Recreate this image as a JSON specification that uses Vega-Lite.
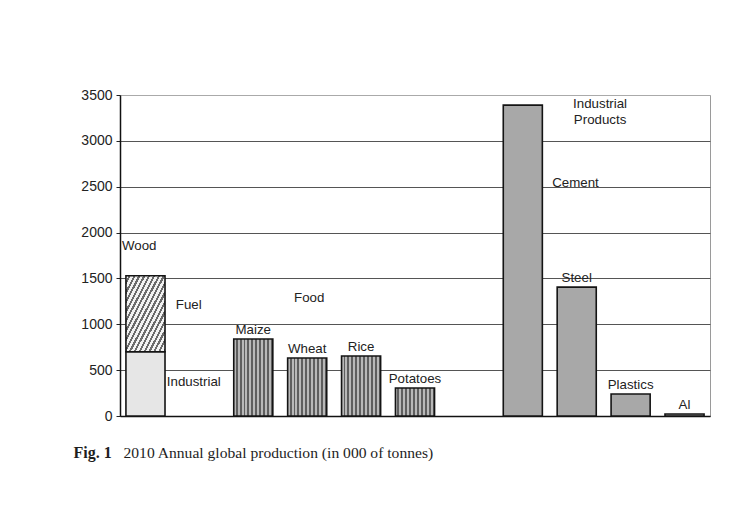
{
  "$schema": "https://vega.github.io/schema/vega-lite/v6.json",
  "width": 590,
  "height": 321,
  "autosize": {"type": "none"},
  "padding": {"left": 120, "top": 95, "right": 42, "bottom": 92},
  "background": "#ffffff",
  "config": {
    "view": {"stroke": "#9a9a9a", "strokeWidth": 1},
    "text": {"font": "Liberation Sans", "fontSize": 13.3, "color": "#222222"}
  },
  "data": {
    "values": [
      {"slot": "Wood", "item": "Industrial", "group": "Wood", "value": 700},
      {"slot": "Wood", "item": "Fuel", "group": "Wood", "value": 830},
      {"slot": "Maize", "item": "Maize", "group": "Food", "value": 840},
      {"slot": "Wheat", "item": "Wheat", "group": "Food", "value": 632},
      {"slot": "Rice", "item": "Rice", "group": "Food", "value": 654},
      {"slot": "Potatoes", "item": "Potatoes", "group": "Food", "value": 305},
      {"slot": "Cement", "item": "Cement", "group": "Industrial Products", "value": 3390},
      {"slot": "Steel", "item": "Steel", "group": "Industrial Products", "value": 1405},
      {"slot": "Plastics", "item": "Plastics", "group": "Industrial Products", "value": 240},
      {"slot": "Al", "item": "Al", "group": "Industrial Products", "value": 22}
    ]
  },
  "transform": [
    {"stack": "value", "groupby": ["slot"], "sort": [{"field": "item", "order": "descending"}], "as": ["y0", "y1"]}
  ],
  "layer": [
    {
      "transform": [{"filter": "datum.item === 'Industrial'"}],
      "mark": {"type": "bar", "fill": "#e6e6e6", "stroke": "#141414", "strokeWidth": 1.6},
      "encoding": {
        "x": {
          "field": "slot", "type": "nominal",
          "scale": {"domain": ["Wood", "gap1", "Maize", "Wheat", "Rice", "Potatoes", "gap2", "Cement", "Steel", "Plastics", "Al"], "paddingInner": 0.275, "paddingOuter": 0.11},
          "axis": {
            "orient": "bottom", "labels": false, "ticks": false, "grid": false,
            "domainColor": "#111111", "domainWidth": 1.5,
            "title": "2010 Annual global production (in 000 of tonnes)",
            "titleX": 3, "titleY": 41, "titleAlign": "left", "titleAnchor": "start", "titleBaseline": "alphabetic",
            "titleFont": "Liberation Serif", "titleFontSize": 15.6, "titleFontWeight": "normal", "titleColor": "#1e1e1e"
          }
        },
        "y": {
          "field": "y1", "type": "quantitative",
          "scale": {"domain": [0, 3500], "nice": false},
          "axis": {
            "orient": "left", "values": [0, 500, 1000, 1500, 2000, 2500, 3000, 3500], "format": "d",
            "title": "Fig. 1", "titleAngle": 0, "titleX": -47, "titleY": 362, "titleAlign": "left", "titleBaseline": "alphabetic",
            "titleFont": "Liberation Serif", "titleFontSize": 16, "titleFontWeight": "bold", "titleColor": "#1e1e1e",
            "labelFont": "Liberation Sans", "labelFontSize": 14, "labelColor": "#222222", "labelPadding": 4,
            "tickColor": "#222222", "tickSize": 4, "domainColor": "#111111", "domainWidth": 1.5,
            "grid": true, "gridWidth": 1,
            "gridColor": {"condition": {"test": "datum.value === 3500", "value": "#aaaaaa"}, "value": "#555555"}
          }
        },
        "y2": {"field": "y0"}
      }
    },
    {
      "transform": [{"filter": "datum.item === 'Fuel'"}],
      "mark": {
        "type": "bar", "stroke": "#141414", "strokeWidth": 1.6,
        "fill": {
          "gradient": "linear", "x1": 0, "y1": 0, "x2": 1, "y2": 1,
          "stops": [
            {"offset": 0, "color": "#f2f2f2"}, {"offset": 0.035, "color": "#f2f2f2"}, {"offset": 0.035, "color": "#6a6a6a"}, {"offset": 0.0625, "color": "#6a6a6a"},
            {"offset": 0.0625, "color": "#f2f2f2"}, {"offset": 0.0975, "color": "#f2f2f2"}, {"offset": 0.0975, "color": "#6a6a6a"}, {"offset": 0.125, "color": "#6a6a6a"},
            {"offset": 0.125, "color": "#f2f2f2"}, {"offset": 0.16, "color": "#f2f2f2"}, {"offset": 0.16, "color": "#6a6a6a"}, {"offset": 0.1875, "color": "#6a6a6a"},
            {"offset": 0.1875, "color": "#f2f2f2"}, {"offset": 0.2225, "color": "#f2f2f2"}, {"offset": 0.2225, "color": "#6a6a6a"}, {"offset": 0.25, "color": "#6a6a6a"},
            {"offset": 0.25, "color": "#f2f2f2"}, {"offset": 0.285, "color": "#f2f2f2"}, {"offset": 0.285, "color": "#6a6a6a"}, {"offset": 0.3125, "color": "#6a6a6a"},
            {"offset": 0.3125, "color": "#f2f2f2"}, {"offset": 0.3475, "color": "#f2f2f2"}, {"offset": 0.3475, "color": "#6a6a6a"}, {"offset": 0.375, "color": "#6a6a6a"},
            {"offset": 0.375, "color": "#f2f2f2"}, {"offset": 0.41, "color": "#f2f2f2"}, {"offset": 0.41, "color": "#6a6a6a"}, {"offset": 0.4375, "color": "#6a6a6a"},
            {"offset": 0.4375, "color": "#f2f2f2"}, {"offset": 0.4725, "color": "#f2f2f2"}, {"offset": 0.4725, "color": "#6a6a6a"}, {"offset": 0.5, "color": "#6a6a6a"},
            {"offset": 0.5, "color": "#f2f2f2"}, {"offset": 0.535, "color": "#f2f2f2"}, {"offset": 0.535, "color": "#6a6a6a"}, {"offset": 0.5625, "color": "#6a6a6a"},
            {"offset": 0.5625, "color": "#f2f2f2"}, {"offset": 0.5975, "color": "#f2f2f2"}, {"offset": 0.5975, "color": "#6a6a6a"}, {"offset": 0.625, "color": "#6a6a6a"},
            {"offset": 0.625, "color": "#f2f2f2"}, {"offset": 0.66, "color": "#f2f2f2"}, {"offset": 0.66, "color": "#6a6a6a"}, {"offset": 0.6875, "color": "#6a6a6a"},
            {"offset": 0.6875, "color": "#f2f2f2"}, {"offset": 0.7225, "color": "#f2f2f2"}, {"offset": 0.7225, "color": "#6a6a6a"}, {"offset": 0.75, "color": "#6a6a6a"},
            {"offset": 0.75, "color": "#f2f2f2"}, {"offset": 0.785, "color": "#f2f2f2"}, {"offset": 0.785, "color": "#6a6a6a"}, {"offset": 0.8125, "color": "#6a6a6a"},
            {"offset": 0.8125, "color": "#f2f2f2"}, {"offset": 0.8475, "color": "#f2f2f2"}, {"offset": 0.8475, "color": "#6a6a6a"}, {"offset": 0.875, "color": "#6a6a6a"},
            {"offset": 0.875, "color": "#f2f2f2"}, {"offset": 0.91, "color": "#f2f2f2"}, {"offset": 0.91, "color": "#6a6a6a"}, {"offset": 0.9375, "color": "#6a6a6a"},
            {"offset": 0.9375, "color": "#f2f2f2"}, {"offset": 0.9725, "color": "#f2f2f2"}, {"offset": 0.9725, "color": "#6a6a6a"}, {"offset": 1, "color": "#6a6a6a"}
          ]
        }
      },
      "encoding": {
        "x": {"field": "slot", "type": "nominal"},
        "y": {"field": "y1", "type": "quantitative"},
        "y2": {"field": "y0"}
      }
    },
    {
      "transform": [{"filter": "datum.group === 'Food'"}],
      "mark": {
        "type": "bar", "stroke": "#141414", "strokeWidth": 1.6,
        "fill": {
          "gradient": "linear", "x1": 0, "y1": 0, "x2": 1, "y2": 0,
          "stops": [
            {"offset": 0, "color": "#b8b8b8"}, {"offset": 0.05, "color": "#b8b8b8"}, {"offset": 0.05, "color": "#5e5e5e"}, {"offset": 0.1, "color": "#5e5e5e"},
            {"offset": 0.1, "color": "#b8b8b8"}, {"offset": 0.15, "color": "#b8b8b8"}, {"offset": 0.15, "color": "#5e5e5e"}, {"offset": 0.2, "color": "#5e5e5e"},
            {"offset": 0.2, "color": "#b8b8b8"}, {"offset": 0.25, "color": "#b8b8b8"}, {"offset": 0.25, "color": "#5e5e5e"}, {"offset": 0.3, "color": "#5e5e5e"},
            {"offset": 0.3, "color": "#b8b8b8"}, {"offset": 0.35, "color": "#b8b8b8"}, {"offset": 0.35, "color": "#5e5e5e"}, {"offset": 0.4, "color": "#5e5e5e"},
            {"offset": 0.4, "color": "#b8b8b8"}, {"offset": 0.45, "color": "#b8b8b8"}, {"offset": 0.45, "color": "#5e5e5e"}, {"offset": 0.5, "color": "#5e5e5e"},
            {"offset": 0.5, "color": "#b8b8b8"}, {"offset": 0.55, "color": "#b8b8b8"}, {"offset": 0.55, "color": "#5e5e5e"}, {"offset": 0.6, "color": "#5e5e5e"},
            {"offset": 0.6, "color": "#b8b8b8"}, {"offset": 0.65, "color": "#b8b8b8"}, {"offset": 0.65, "color": "#5e5e5e"}, {"offset": 0.7, "color": "#5e5e5e"},
            {"offset": 0.7, "color": "#b8b8b8"}, {"offset": 0.75, "color": "#b8b8b8"}, {"offset": 0.75, "color": "#5e5e5e"}, {"offset": 0.8, "color": "#5e5e5e"},
            {"offset": 0.8, "color": "#b8b8b8"}, {"offset": 0.85, "color": "#b8b8b8"}, {"offset": 0.85, "color": "#5e5e5e"}, {"offset": 0.9, "color": "#5e5e5e"},
            {"offset": 0.9, "color": "#b8b8b8"}, {"offset": 0.95, "color": "#b8b8b8"}, {"offset": 0.95, "color": "#5e5e5e"}, {"offset": 1, "color": "#5e5e5e"}
          ]
        }
      },
      "encoding": {
        "x": {"field": "slot", "type": "nominal"},
        "y": {"field": "y1", "type": "quantitative"},
        "y2": {"field": "y0"}
      }
    },
    {
      "transform": [{"filter": "datum.group === 'Industrial Products'"}],
      "mark": {"type": "bar", "fill": "#a8a8a8", "stroke": "#141414", "strokeWidth": 1.6},
      "encoding": {
        "x": {"field": "slot", "type": "nominal"},
        "y": {"field": "y1", "type": "quantitative"},
        "y2": {"field": "y0"}
      }
    },
    {
      "transform": [{"filter": "datum.slot !== 'Wood' && datum.slot !== 'Cement'"}],
      "mark": {"type": "text", "align": "center", "baseline": "alphabetic", "dy": -5},
      "encoding": {
        "x": {"field": "slot", "type": "nominal"},
        "y": {"field": "y1", "type": "quantitative"},
        "text": {"field": "item"}
      }
    },
    {
      "data": {"values": [{"label": "Wood", "slot": "Wood", "value": 1850}]},
      "mark": {"type": "text", "align": "left", "baseline": "middle", "dx": -4},
      "encoding": {
        "x": {"field": "slot", "type": "nominal", "bandPosition": 0},
        "y": {"field": "value", "type": "quantitative"},
        "text": {"field": "label"}
      }
    },
    {
      "data": {"values": [{"label": "Fuel", "slot": "gap1", "value": 1215}]},
      "mark": {"type": "text", "align": "left", "baseline": "middle", "dx": -4},
      "encoding": {
        "x": {"field": "slot", "type": "nominal", "bandPosition": 0},
        "y": {"field": "value", "type": "quantitative"},
        "text": {"field": "label"}
      }
    },
    {
      "data": {"values": [{"label": "Industrial", "slot": "gap1", "value": 370}]},
      "mark": {"type": "text", "align": "left", "baseline": "middle", "dx": -13},
      "encoding": {
        "x": {"field": "slot", "type": "nominal", "bandPosition": 0},
        "y": {"field": "value", "type": "quantitative"},
        "text": {"field": "label"}
      }
    },
    {
      "data": {"values": [{"label": "Food", "slot": "Wheat", "value": 1285}]},
      "mark": {"type": "text", "align": "center", "baseline": "middle", "dx": 2},
      "encoding": {
        "x": {"field": "slot", "type": "nominal"},
        "y": {"field": "value", "type": "quantitative"},
        "text": {"field": "label"}
      }
    },
    {
      "data": {"values": [{"label": "Cement", "slot": "Steel", "value": 2540}]},
      "mark": {"type": "text", "align": "left", "baseline": "middle", "dx": -5},
      "encoding": {
        "x": {"field": "slot", "type": "nominal", "bandPosition": 0},
        "y": {"field": "value", "type": "quantitative"},
        "text": {"field": "label"}
      }
    },
    {
      "data": {"values": [{"label": "Industrial\nProducts", "slot": "Plastics", "value": 3480}]},
      "mark": {"type": "text", "align": "center", "baseline": "top", "dx": -11, "lineBreak": "\n", "lineHeight": 16},
      "encoding": {
        "x": {"field": "slot", "type": "nominal", "bandPosition": 0},
        "y": {"field": "value", "type": "quantitative"},
        "text": {"field": "label"}
      }
    }
  ]
}
